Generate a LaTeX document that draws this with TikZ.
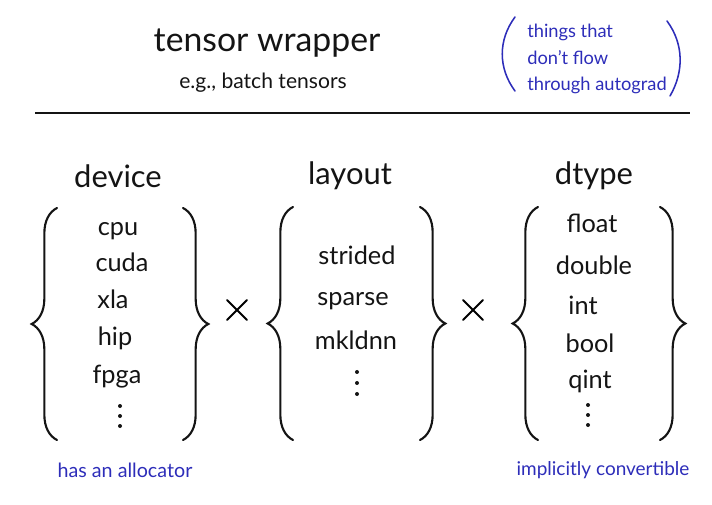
\documentclass[tikz,border=0pt]{standalone}
\usepackage{fontspec}
\setmainfont{Lato}
\usetikzlibrary{decorations.pathreplacing}
\definecolor{inkcol}{RGB}{20,20,20}
\definecolor{notecol}{RGB}{45,45,185}

\tikzset{
  title/.style={font=\fontsize{24}{24}\selectfont, inner sep=0pt},
  head/.style={font=\fontsize{22}{22}\selectfont, inner sep=0pt},
  item/.style={font=\fontsize{18}{18}\selectfont, inner sep=0pt,
    text height=0.9em, text depth=0em},
  note/.style={text=notecol, font=\fontsize{13}{19}\selectfont, inner sep=0pt},
  setbrace/.style={draw=inkcol, line width=1.5pt, line cap=round,
    decorate, decoration={brace, amplitude=18pt}},
  dot/.style={fill=inkcol, draw=none},
  times/.style={line width=1.5pt, line cap=round},
}

\begin{document}
\begin{tikzpicture}[x=0.025cm, y=-0.025cm, text=inkcol]
  \useasboundingbox (0,0) rectangle (712,505);

  % header
  \node[title] (ttl) at (267,43) {tensor wrapper};
  \node[font=\fontsize{15}{15}\selectfont, inner sep=0pt] (sub) at (263,83) {e.g., batch tensors};

  % side remark in parentheses
  \node[note, align=left, anchor=west] (remark) at (527,59)
    {things that\\don't flow\\through autograd};
  \draw[notecol, line width=1.1pt, line cap=round]
    (515,17) .. controls (498,40) and (498,68) .. (515,91);
  \draw[notecol, line width=1.1pt, line cap=round]
    (667,21) .. controls (684,44) and (684,72) .. (670,96);

  \draw[inkcol, line width=1.8pt] (35,113) -- (690,113);

  % device set
  \node[head] (device) at (118,176) {device};
  \draw[setbrace] (57,440) -- (57,208);
  \draw[setbrace] (183,208) -- (183,440);
  \node[item] (cpu) at (118,229) {cpu};
  \node[item] (cuda) at (122,265) {cuda};
  \node[item] (xla) at (113,302) {xla};
  \node[item] (hip) at (115,339) {hip};
  \node[item] (fpga) at (117,377) {fpga};
  \foreach \y in {406,416,426}
    \fill[dot] (120,\y) circle (2);

  \draw[times] (227,300) -- (247,320) (247,300) -- (227,320);

  % layout set
  \node[head] (layout) at (350,176) {layout};
  \draw[setbrace] (293,440) -- (293,207);
  \draw[setbrace] (420,207) -- (420,440);
  \node[item] (strided) at (357,258) {strided};
  \node[item] (sparse) at (353,299) {sparse};
  \node[item] (mkldnn) at (356,343) {mkldnn};
  \foreach \y in {372,383,394}
    \fill[dot] (357,\y) circle (2);

  \draw[times] (463,300) -- (483,320) (483,300) -- (463,320);

  % dtype set
  \node[head] (dtype) at (594,176) {dtype};
  \draw[setbrace] (538,440) -- (538,207);
  \draw[setbrace] (660,207) -- (660,440);
  \node[item] (float) at (592,226) {float};
  \node[item] (double) at (594,268) {double};
  \node[item] (int) at (583,308) {int};
  \node[item] (bool) at (590,346) {bool};
  \node[item] (qint) at (590,382) {qint};
  \foreach \y in {405,415,425}
    \fill[dot] (588,\y) circle (2);

  % footnotes
  \node[note, font=\fontsize{14}{14}\selectfont] (alloc) at (125,470) {has an allocator};
  \node[note, font=\fontsize{13.5}{14}\selectfont] (conv) at (603,470) {implicitly convertible};
\end{tikzpicture}
\end{document}
